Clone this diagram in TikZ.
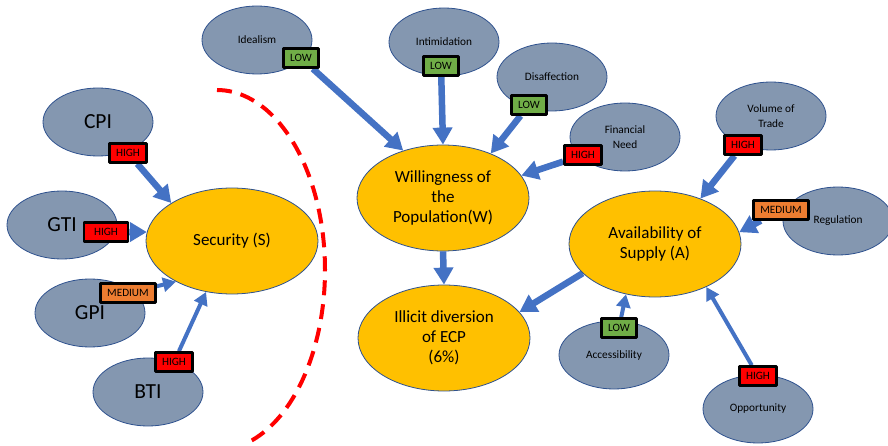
\documentclass[tikz,border=0pt]{standalone}
\usepackage{fontspec}
\setmainfont{Carlito}
\usetikzlibrary{shapes.geometric,arrows.meta,backgrounds}

\definecolor{giallo}{HTML}{FFC000}
\definecolor{grigio}{HTML}{8497B0}
\definecolor{bordo}{HTML}{2F528F}
\definecolor{blu}{HTML}{4472C4}
\definecolor{rosso}{HTML}{FF0000}
\definecolor{verde}{HTML}{70AD47}
\definecolor{arancio}{HTML}{ED7D31}

\begin{document}
\begin{tikzpicture}[x=1pt, y=-1pt, line join=round,
  fattore/.style={ellipse, draw=bordo, line width=0.8pt, fill=grigio, minimum width=110pt,
    minimum height=68pt, inner sep=0pt, align=center, font=\fontsize{11.3}{14.5}\selectfont},
  indice/.style={fattore, font=\fontsize{21.5}{24}\selectfont},
  centro/.style={ellipse, draw=bordo, line width=0.8pt, fill=giallo, minimum width=172pt,
    minimum height=106pt, inner sep=0pt, align=center, font=\fontsize{17}{20}\selectfont},
  livello/.style={rectangle, draw=black, line width=2.5pt, inner xsep=6.75pt, inner ysep=0pt,
    minimum height=19pt, font=\fontsize{11.2}{13}\selectfont},
  alto/.style={livello, fill=rosso},
  medio/.style={livello, fill=arancio},
  basso/.style={livello, fill=verde},
  freccia/.style={draw=blu, line width=6.5pt, -{Triangle[length=17pt,width=19pt]}},
  freccina/.style={draw=blu, line width=4pt, -{Triangle[length=13pt,width=14pt]}}
]
\useasboundingbox (0,0) rectangle (888,446);

% indici di sicurezza
\node[indice] (cpi) at (98,122) {CPI};
\node[indice] (gti) at (62,225) {GTI};
\node[indice] (gpi) at (90,313) {GPI};
\node[indice] (bti) at (148,392) {BTI};

% fattori della popolazione
\node[fattore] (ideal) at (257,40) {Idealism};
\node[fattore] (intim) at (444,42) {Intimidation};
\node[fattore] (disaff) at (552,77) {Disaffection};
\node[fattore] (finneed) at (625,137) {Financial\\Need};

% fattori della disponibilita
\node[fattore] (volume) at (771,116) {Volume of\\Trade};
\node[fattore] (regul) at (838,221) {Regulation};
\node[fattore] (access) at (614,355) {Accessibility};
\node[fattore] (opport) at (758,409) {Opportunity};

% nodi centrali
\node[centro] (S) at (232,241) {Security (S)};
\node[centro] (W) at (443,198) {Willingness of\\the\\Population(W)};
\node[centro] (I) at (444,338) {Illicit diversion\\of ECP\\(6\%)};
\node[centro] (A) at (655,244) {Availability of\\Supply (A)};

% livelli
\node[alto] (hCPI) at (128,153) {HIGH};
\node[alto, minimum width=44pt] (hGTI) at (106,232) {HIGH};
\node[medio] (mGPI) at (128,293) {MEDIUM};
\node[alto] (hBTI) at (174,362) {HIGH};
\node[basso] (lIdeal) at (301,58) {LOW};
\node[basso] (lIntim) at (441,66) {LOW};
\node[basso] (lDisaff) at (529,105) {LOW};
\node[alto] (hFin) at (583,155) {HIGH};
\node[alto] (hVol) at (743,145) {HIGH};
\node[medio] (mReg) at (781,210) {MEDIUM};
\node[basso] (lAcc) at (619,328) {LOW};
\node[alto] (hOpp) at (758,376) {HIGH};

% frecce sotto i livelli
\begin{scope}[on background layer]
\draw[freccia] (hCPI) -- (S.148);
\draw[freccia] (hGTI) -- (S.174);
\draw[freccina] (mGPI) -- (S.216);
\draw[freccina] (hBTI) -- (S.243);
\draw[freccia] (lIdeal) -- (W.130);
\draw[freccia] (lIntim) -- (W.north);
\draw[freccia] (lDisaff) -- (W.43);
\draw[freccia] (hFin) -- (W.16);
\draw[freccia] (W.south) -- (I.north);
\draw[freccia] (A.202) -- (I.19);
\draw[freccia] (hVol) -- (A.45);
\draw[freccia] (mReg) -- (A.8);
\draw[freccina] (lAcc) -- (A.240);
\draw[freccina] (hOpp) -- (A.320);
\end{scope}

% arco tratteggiato
\draw[rosso, line width=4pt, dash pattern=on 15pt off 9pt]
  plot[domain=-90:75, samples=80, smooth] ({217+108*cos(\x)}, {270+180*sin(\x)});

\end{tikzpicture}
\end{document}
